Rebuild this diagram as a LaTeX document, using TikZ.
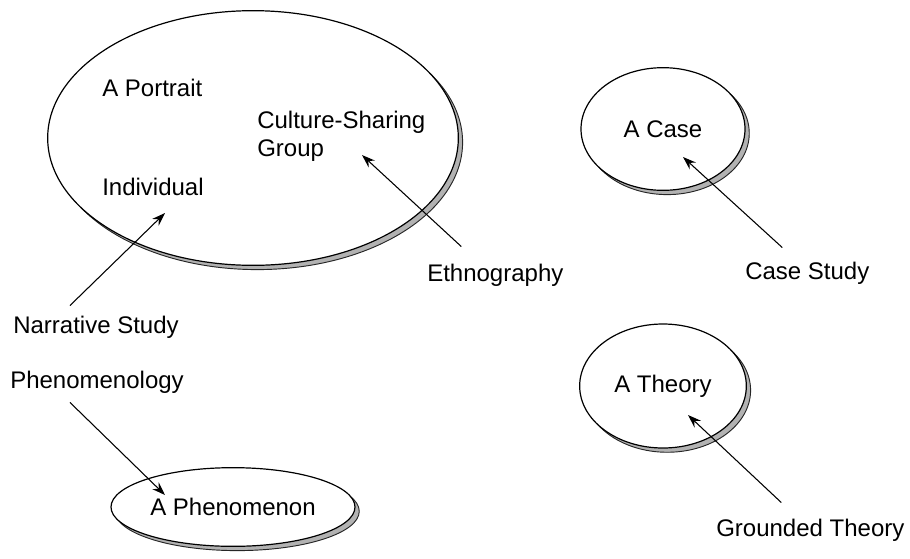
\documentclass[tikz,border=0pt]{standalone}
\usepackage{fontspec}
\setmainfont{Liberation Sans}
\usepackage{tikz}
\usetikzlibrary{shapes.geometric}
\usetikzlibrary{shadows}
\usetikzlibrary{arrows.meta}
\usepackage{xcolor}

\tikzset{
  blob/.style={ellipse, draw, line width=0.9pt, fill=white, inner sep=0pt,
    drop shadow={shadow xshift=3.2pt, shadow yshift=-3.2pt, opacity=1,
      fill=gray!60, draw=black!85, line width=0.7pt}},
  lbl/.style={anchor=west, inner sep=0pt},
  arr/.style={-{Stealth[length=10pt,width=7pt,inset=3.5pt]}, line width=0.8pt}
}

\begin{document}
\begin{tikzpicture}[x=0.75pt,y=-0.75pt,font=\fontsize{18}{21}\selectfont]
  \useasboundingbox (0,0) rectangle (910,558);

  % the shapes
  \node[blob, minimum width=308pt, minimum height=191pt] (groupblob) at (253,138) {};
  \node[blob, minimum width=123pt, minimum height=92pt] (caseblob) at (663,129) {A Case};
  \node[blob, minimum width=125pt, minimum height=93pt] (theoryblob) at (663,386) {A Theory};
  \node[blob, minimum width=183pt, minimum height=59pt] (phenblob) at (233,507) {A Phenomenon};

  % texts inside the big one
  \node[lbl] (portrait) at (102,88) {A Portrait};
  \node[lbl, align=left] (culture) at (257,136) {Culture-Sharing\\Group};
  \node[lbl] (indiv) at (102,187) {Individual};

  % approaches
  \node[lbl] (narr) at (13,327) {Narrative Study};
  \node[lbl] (phen) at (10,382) {Phenomenology};
  \node[lbl] (ethno) at (427,275) {Ethnography};
  \node[lbl] (casest) at (745,273) {Case Study};
  \node[lbl] (grounded) at (716,530) {Grounded Theory};

  \coordinate (indtip) at (165,213);
  \coordinate (cultip) at (362,155);
  \coordinate (casetip) at (683,157);
  \coordinate (theotip) at (688,415);
  \coordinate (phentip) at (165,495);

  \draw[arr] (narr.north) ++(-26,-10) -- (indtip);
  \draw[arr] (ethno.north) ++(-34,-17) -- (cultip);
  \draw[arr] (casest.north) ++(-25,-14) -- (casetip);
  \draw[arr] (grounded.north) ++(-29,-16) -- (theotip);
  \draw[arr] (phen.south) ++(-27,9) -- (phentip);

\end{tikzpicture}
\end{document}
